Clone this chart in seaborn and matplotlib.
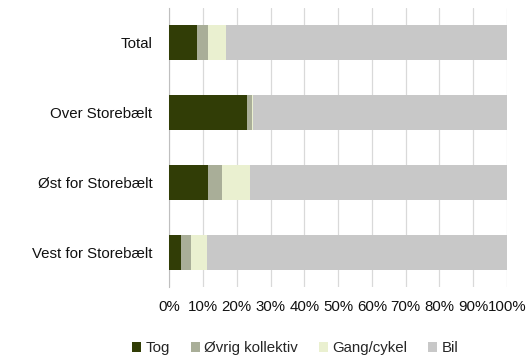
import matplotlib
matplotlib.use("Agg")
import matplotlib.pyplot as plt
import numpy as np
import pandas as pd
import seaborn as sns
from matplotlib.patches import Patch
from matplotlib.ticker import FixedLocator, PercentFormatter

categories = ["Total", "Over Storebælt", "Øst for Storebælt", "Vest for Storebælt"]
series = ["Tog", "Øvrig kollektiv", "Gang/cykel", "Bil"]
tog = [8.1, 22.9, 11.5, 3.5]
oevrig = [3.3, 1.7, 4.1, 2.9]
gang = [5.5, 0.3, 8.3, 4.7]
bil = [83.1, 75.1, 76.1, 88.9]
colors = ["#313D06", "#A9AE98", "#EAF0D0", "#C8C8C8"]
xticks = [0, 10, 20, 30, 40, 50, 60, 70, 80, 90, 100]


def main():
    sns.set_style("white")
    plt.rcParams["font.family"] = ["Liberation Sans", "DejaVu Sans"]

    df = pd.DataFrame({"kategori": categories, "Tog": tog, "Øvrig kollektiv": oevrig,
                       "Gang/cykel": gang, "Bil": bil})
    cum = df[series].cumsum(axis=1)

    fig = plt.figure(figsize=(5.32, 3.63), dpi=100)
    ax = fig.add_axes([0.318, 0.209, 0.635, 0.769])

    # stacked bars: draw cumulative totals from the back to the front
    for name, color in reversed(list(zip(series, colors))):
        sns.barplot(ax=ax, x=cum[name], y=df["kategori"], orient="h", color=color,
                    width=0.5, saturation=1, linewidth=0, zorder=3)

    ax.set_xlim(0, 100)
    ax.xaxis.set_major_locator(FixedLocator(xticks))
    ax.xaxis.set_major_formatter(PercentFormatter(decimals=0))
    ax.grid(axis="x", color="#D9D9D9", linewidth=0.9, zorder=0)
    ax.set_axisbelow(True)
    for s in ["top", "right", "bottom"]:
        ax.spines[s].set_visible(False)
    ax.spines["left"].set_color("#BFBFBF")
    ax.tick_params(axis="y", length=0, labelsize=10.8, colors="#111111", pad=12)
    ax.tick_params(axis="x", length=0, labelsize=10.8, colors="#111111", pad=9)
    ax.set_xlabel("")
    ax.set_ylabel("")

    handles = [Patch(facecolor=c, edgecolor="none") for c in colors]
    fig.legend(handles, series, loc="center", bbox_to_anchor=(0.555, 0.04), ncol=4,
               frameon=False, fontsize=10.8, handlelength=0.6, handleheight=0.6,
               handletextpad=0.3, columnspacing=1.4)

    fig.savefig("out.png", dpi=100)
    plt.close()


if __name__ == "__main__":
    main()
